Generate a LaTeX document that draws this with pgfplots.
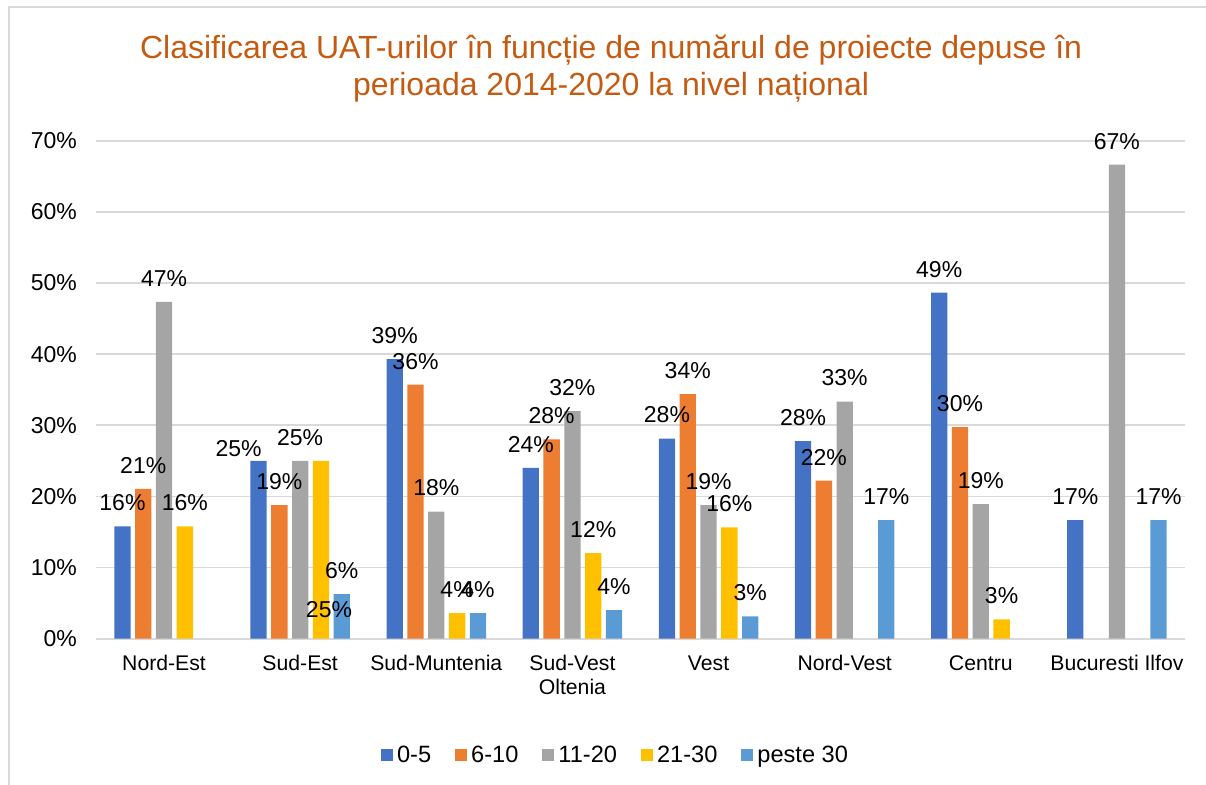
\documentclass[border=0pt]{standalone}
\usepackage{fontspec}
\setmainfont{Liberation Sans}
\usepackage{pgfplots}
\usepackage{pgfplotstable}
\pgfplotsset{compat=1.18}

\definecolor{cA}{HTML}{4472C4}
\definecolor{cB}{HTML}{ED7D31}
\definecolor{cC}{HTML}{A5A5A5}
\definecolor{cD}{HTML}{FFC000}
\definecolor{cE}{HTML}{5B9BD5}
\definecolor{titlec}{HTML}{C55A11}
\definecolor{gridc}{HTML}{D9D9D9}

% x = region index, y = share (%), dx/dy = label offset (pt)
\pgfplotstableread{
x y dx dy
0 15.79 0 0
1 25.00 -10 -5.4
2 39.29 0 0
3 24.00 0 0
4 28.13 0 0
5 27.78 0 0
6 48.65 0 0
7 16.67 0 0
}\sA
\pgfplotstableread{
x y dx dy
0 21.05 0 0
1 18.75 0 0
2 35.71 0 0
3 28.00 0 0
4 34.38 0 0
5 22.22 0 0
6 29.73 0 0
}\sB
\pgfplotstableread{
x y dx dy
0 47.37 0 0
1 25.00 0 0
2 17.86 0 0
3 32.00 0 0
4 18.75 0 0
5 33.33 0 0
6 18.92 0 0
7 66.67 0 0
}\sC
\pgfplotstableread{
x y dx dy
0 15.79 0 0
1 25.00 4 -85.9
2 3.57 0 0
3 12.00 0 0
4 15.63 0 0
6 2.70 0 0
}\sD
\pgfplotstableread{
x y dx dy
1 6.25 0 0
2 3.57 0 0
3 4.00 0 0
4 3.13 0 0
5 16.67 0 0
7 16.67 0 0
}\sE

\pgfplotsset{lbl/.style={
    visualization depends on={\thisrow{dx} \as \dx},
    visualization depends on={\thisrow{dy} \as \dy},
    nodes near coords={\pgfmathprintnumber[fixed,precision=0]{\pgfplotspointmeta}\%},
    every node near coord/.append style={font=\fontsize{11.5}{13}\selectfont, text=black,
        anchor=center, xshift=\dx pt, yshift=11.75pt, yshift=\dy pt},
}}

\begin{document}
\begin{tikzpicture}
\begin{axis}[
    name=ax, at={(0,0)}, anchor=south west,
    scale only axis, width=544.5pt, height=248.8pt,
    ybar=2.25pt, bar width=8.15pt,
    xmin=-0.5, xmax=7.5, ymin=0, ymax=70,
    xtick={0,...,7},
    xticklabels={Nord-Est, Sud-Est, Sud-Muntenia, {Sud-Vest\\Oltenia}, Vest, Nord-Vest, Centru, Bucuresti Ilfov},
    xticklabel style={align=center, font=\fontsize{10.6}{12}\selectfont, yshift=-5pt},
    ytick={0,10,...,70},
    yticklabel={\pgfmathprintnumber{\tick}\%},
    yticklabel style={font=\fontsize{11.5}{13}\selectfont, xshift=-6pt},
    /pgf/number format/assume math mode=true,
    major tick length=0pt,
    ymajorgrids, grid style={draw=gridc, line width=0.8pt},
    axis lines*=left,
    y axis line style={draw=none},
    x axis line style={draw=gridc, line width=1pt},
    clip=false,
    legend style={at={(0.478,-0.235)}, anchor=center, draw=none, legend columns=-1,
        font=\fontsize{11.8}{14}\selectfont,
        /tikz/every even column/.append style={column sep=10pt}},
    legend image code/.code={\fill[#1] (0.8pt,-3pt) rectangle (6.8pt,3pt);},
]
\addplot[fill=cA, draw=none, lbl] table[x=x, y=y] {\sA};
\addlegendentry{0-5}
\addplot[fill=cB, draw=none, lbl] table[x=x, y=y] {\sB};
\addlegendentry{6-10}
\addplot[fill=cC, draw=none, lbl] table[x=x, y=y] {\sC};
\addlegendentry{11-20}
\addplot[fill=cD, draw=none, lbl] table[x=x, y=y] {\sD};
\addlegendentry{21-30}
\addplot[fill=cE, draw=none, lbl] table[x=x, y=y] {\sE};
\addlegendentry{peste 30}

\node[font=\fontsize{16}{18.5}\selectfont, text=titlec, align=center] at (rel axis cs:0.473,1) [yshift=36pt]
  {Clasificarea UAT-urilor în funcție de numărul de proiecte depuse în\\perioada 2014-2020 la nivel național};
\end{axis}
\draw[gridc, line width=1pt] (-43.5pt,-80pt) -- (-43.5pt,316pt) -- (560pt,316pt);
\pgfresetboundingbox
\path (-48pt,-72.75pt) rectangle (555pt,319.25pt);
\end{tikzpicture}
\end{document}
